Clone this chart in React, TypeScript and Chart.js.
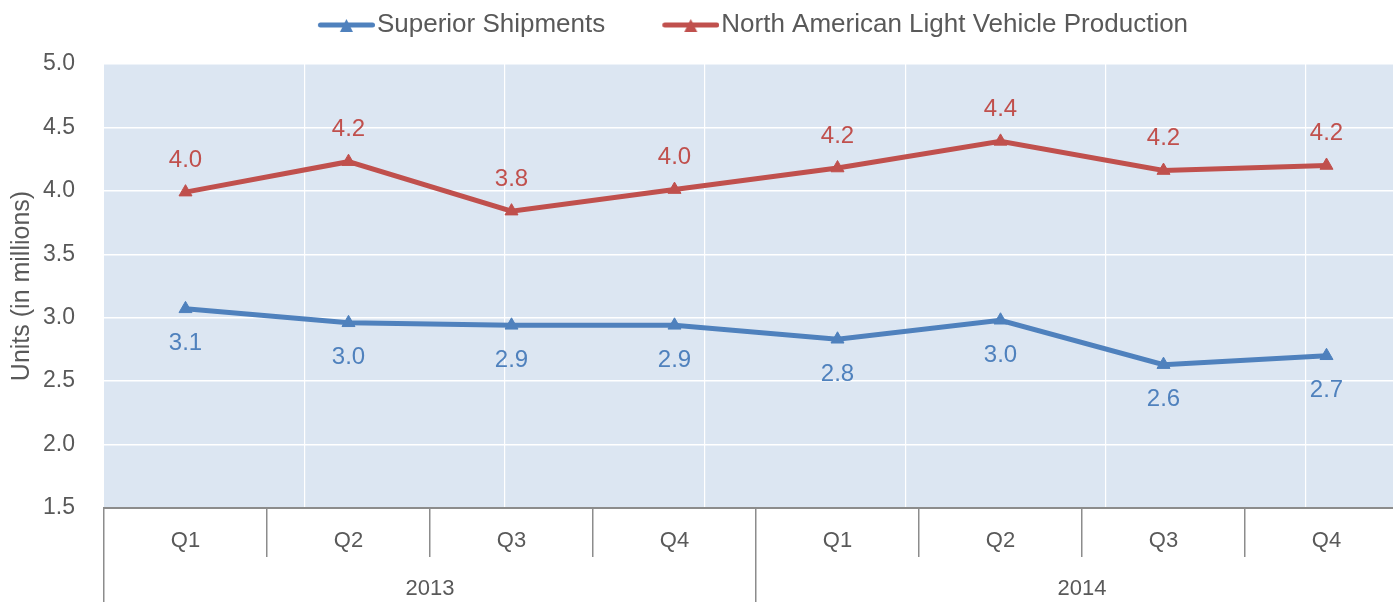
import React, { useEffect, useRef } from 'react';
import { Chart, registerables } from 'chart.js';

Chart.register(...registerables);

// ---- data ----
const quarterLabels = ['Q1', 'Q2', 'Q3', 'Q4', 'Q1', 'Q2', 'Q3', 'Q4'];
const yearLabels = ['2013', '2014'];
const superiorShipments = [3.07, 2.96, 2.94, 2.94, 2.83, 2.98, 2.63, 2.7];
const naLightVehicleProduction = [3.99, 4.23, 3.84, 4.01, 4.18, 4.39, 4.16, 4.2];
const seriesNames = ['Superior Shipments', 'North American Light Vehicle Production'];
const yAxisTitle = 'Units (in millions)';
const yMin = 1.5;
const yMax = 5.0;
const yStep = 0.5;

// ---- styles ----
const FONT = "'Liberation Sans', Arial, sans-serif";
const BLUE = '#4f81bd';
const RED = '#c0504d';
const TEXT = '#595959';
const AXIS = '#8c8c8c';
const PLOT_BG = '#dce6f2';
const LEGEND_SIZE = 26;
const LEGEND_BOX = 95;
const LEGEND_PAD = 8;
const LABEL_OFFSETS = [35, -32];

function makeLegendMarker(color: string) {
  const w = LEGEND_BOX + LEGEND_SIZE / 2 * 2 - 4; // right edge 2px before the text
  const c = document.createElement('canvas');
  c.width = w;
  c.height = 20;
  const g = c.getContext('2d')!;
  const x0 = w - 57;
  g.strokeStyle = color;
  g.lineWidth = 5;
  g.lineCap = 'round';
  g.beginPath();
  g.moveTo(x0 + 2.5, 10);
  g.lineTo(w - 2.5, 10);
  g.stroke();
  const cx = x0 + 28.5;
  g.fillStyle = color;
  g.beginPath();
  g.moveTo(cx, 4);
  g.lineTo(cx + 6.5, 17);
  g.lineTo(cx - 6.5, 17);
  g.closePath();
  g.fill();
  return c;
}

const plotBgPlugin = {
  id: 'plotBg',
  beforeDraw(chart: any) {
    const { ctx, chartArea } = chart;
    ctx.save();
    ctx.fillStyle = PLOT_BG;
    ctx.fillRect(chartArea.left, chartArea.top, chartArea.right - chartArea.left, chartArea.bottom - chartArea.top);
    ctx.restore();
  },
};

const valueLabelPlugin = {
  id: 'valueLabels',
  afterDatasetsDraw(chart: any) {
    const ctx = chart.ctx;
    chart.data.datasets.forEach((ds: any, i: number) => {
      const meta = chart.getDatasetMeta(i);
      ctx.save();
      ctx.font = `24px ${FONT}`;
      ctx.fillStyle = ds.borderColor;
      ctx.textAlign = 'center';
      ctx.textBaseline = 'middle';
      meta.data.forEach((pt: any, j: number) => {
        ctx.fillText(Number(ds.data[j]).toFixed(1), pt.x, pt.y + LABEL_OFFSETS[i]);
      });
      ctx.restore();
    });
  },
};

export default function App() {
  const ref = useRef<HTMLCanvasElement>(null);

  useEffect(() => {
    const canvas = ref.current!;
    const m = document.createElement('canvas').getContext('2d')!;
    m.font = `normal normal ${LEGEND_SIZE}px ${FONT}`;
    const tb = m.measureText(seriesNames[0]).width;
    const tr = m.measureText(seriesNames[1]).width;
    const half = LEGEND_SIZE / 2;
    const lineWidth = LEGEND_BOX + half + tb + LEGEND_PAD + LEGEND_BOX + half + tr + LEGEND_PAD;
    const blueX = 377 - LEGEND_BOX - half;
    const W = Math.round(2 * blueX + lineWidth - LEGEND_PAD);
    const plotRight = 1408;
    const rightDummy = Math.max(W - plotRight, 0);
    canvas.width = W;
    canvas.height = 602;
    canvas.style.width = W + 'px';
    canvas.style.height = '602px';

    Chart.defaults.font.family = FONT;
    const markers = [makeLegendMarker(BLUE), makeLegendMarker(RED)];

    const chart = new Chart(canvas, {
      type: 'line',
      data: {
        labels: quarterLabels,
        datasets: [
          {
            label: seriesNames[0],
            data: superiorShipments,
            borderColor: BLUE,
            backgroundColor: BLUE,
            borderWidth: 5,
            pointStyle: 'triangle',
            pointRadius: 7.5,
            pointBackgroundColor: BLUE,
            pointBorderColor: BLUE,
            pointBorderWidth: 1,
            tension: 0,
            xAxisID: 'x',
            yAxisID: 'y',
          },
          {
            label: seriesNames[1],
            data: naLightVehicleProduction,
            borderColor: RED,
            backgroundColor: RED,
            borderWidth: 5,
            pointStyle: 'triangle',
            pointRadius: 7.5,
            pointBackgroundColor: RED,
            pointBorderColor: RED,
            pointBorderWidth: 1,
            tension: 0,
            xAxisID: 'x',
            yAxisID: 'y',
          },
        ],
      },
      options: {
        responsive: false,
        animation: false,
        events: [],
        devicePixelRatio: 1,
        layout: { padding: { top: 4, left: 0, right: 0, bottom: -10 } },
        plugins: {
          tooltip: { enabled: false },
          legend: {
            display: true,
            position: 'top',
            align: 'center',
            labels: {
              usePointStyle: true,
              pointStyleWidth: LEGEND_BOX,
              padding: LEGEND_PAD,
              color: TEXT,
              font: { size: LEGEND_SIZE, family: FONT },
              generateLabels: (ch: any) =>
                ch.data.datasets.map((ds: any, i: number) => ({
                  text: ds.label,
                  fillStyle: ds.borderColor,
                  strokeStyle: ds.borderColor,
                  lineWidth: 0,
                  pointStyle: markers[i],
                  datasetIndex: i,
                  hidden: false,
                  fontColor: TEXT,
                })),
            },
          },
        },
        scales: {
          x: {
            type: 'category',
            position: 'bottom',
            weight: 0,
            offset: true,
            grid: {
              offset: true,
              drawOnChartArea: false,
              drawTicks: true,
              tickLength: 49,
              color: AXIS,
              lineWidth: 1.5,
            },
            border: { display: true, color: AXIS, width: 2 },
            ticks: {
              color: TEXT,
              font: { size: 22, family: FONT },
              padding: -29,
              autoSkip: false,
              maxRotation: 0,
              minRotation: 0,
            },
            afterFit: (s: any) => {
              s.height = 49;
            },
          },
          x2: {
            type: 'category',
            position: 'bottom',
            axis: 'x',
            weight: 1,
            labels: yearLabels,
            offset: true,
            grid: {
              offset: true,
              drawOnChartArea: false,
              drawTicks: true,
              tickLength: 55,
              color: AXIS,
              lineWidth: 1.5,
            },
            border: { display: false },
            ticks: {
              color: TEXT,
              font: { size: 22, family: FONT },
              padding: -36,
              autoSkip: false,
              maxRotation: 0,
              minRotation: 0,
            },
            afterFit: (s: any) => {
              s.height = 55;
            },
          },
          xg: {
            type: 'linear',
            position: 'top',
            axis: 'x',
            min: 0,
            max: 6.51,
            ticks: { display: false, stepSize: 1 },
            grid: {
              drawTicks: false,
              lineWidth: 1.2,
              color: (c: any) =>
                c.tick && Number.isInteger(c.tick.value) && c.tick.value > 0 ? '#ffffff' : 'rgba(0,0,0,0)',
            },
            border: { display: false },
            afterFit: (s: any) => {
              s.height = 16;
            },
          },
          y: {
            type: 'linear',
            position: 'left',
            min: yMin,
            max: yMax,
            ticks: {
              stepSize: yStep,
              color: TEXT,
              font: { size: 23, family: FONT },
              padding: 29,
              callback: (v: any) => Number(v).toFixed(1),
            },
            grid: {
              drawTicks: false,
              lineWidth: 1.5,
              color: (c: any) => (c.tick && c.tick.value === yMin ? 'rgba(0,0,0,0)' : '#ffffff'),
            },
            border: { display: false },
            title: {
              display: true,
              text: yAxisTitle,
              color: TEXT,
              font: { size: 25, family: FONT },
              padding: { top: 7, bottom: 0 },
            },
            afterFit: (s: any) => {
              s.width = 104;
            },
          },
          yr: {
            type: 'linear',
            position: 'right',
            axis: 'y',
            min: 0,
            max: 1,
            ticks: { display: false },
            grid: { display: false, drawTicks: false },
            border: { display: false },
            afterFit: (s: any) => {
              s.width = rightDummy;
            },
          },
        },
      },
      plugins: [plotBgPlugin, valueLabelPlugin],
    } as any);

    return () => chart.destroy();
  }, []);

  return (
    <div style={{ position: 'fixed', left: 0, top: 0, width: 1393, height: 602, overflow: 'hidden' }}>
      <canvas ref={ref} style={{ display: 'block' }} />
    </div>
  );
}
